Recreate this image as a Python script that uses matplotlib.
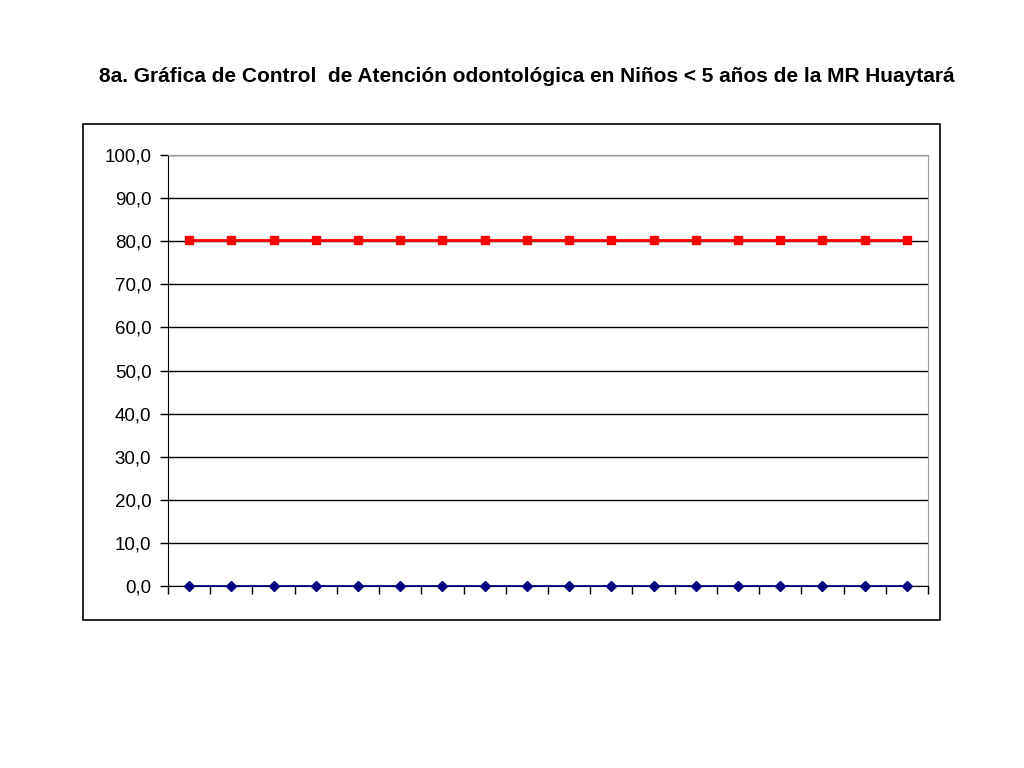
import matplotlib
matplotlib.use("Agg")
import matplotlib.pyplot as plt
from matplotlib.patches import Rectangle

title = "8a. Gráfica de Control  de Atención odontológica en Niños < 5 años de la MR Huaytará"
n_points = 18
meta = [80.3] * n_points
atencion = [0.0] * n_points
yticks = [0, 10, 20, 30, 40, 50, 60, 70, 80, 90, 100]

fig = plt.figure(figsize=(10.24, 7.68), dpi=100)
fig.patch.set_facecolor("white")

# outer chart box
fig.patches.append(Rectangle((83/1024, 1-620/768), (940-83)/1024, (620-124)/768,
                             transform=fig.transFigure, fill=False, edgecolor="black", linewidth=1.2))

ax = fig.add_axes([168/1024, 1-586/768, (928-168)/1024, (586-155)/768])
x = list(range(n_points))
ax.plot(x, meta, color="#FF0000", linewidth=2, marker="s", markersize=5.5, zorder=3, clip_on=False)
ax.plot(x, atencion, color="#000080", linewidth=1.2, marker="D", markersize=5.5, zorder=3, clip_on=False)

ax.set_xlim(-0.5, n_points - 0.5)
ax.set_ylim(0, 100)
ax.set_yticks(yticks)
ax.set_yticklabels([f"{v:.1f}".replace(".", ",") for v in yticks],
                   fontsize=13.5, family=["Liberation Sans", "DejaVu Sans"])
ax.set_xticks([i - 0.5 for i in range(n_points + 1)])
ax.set_xticklabels([])
ax.tick_params(axis="x", direction="out", length=6, width=1, color="black")
ax.tick_params(axis="y", direction="out", length=6, width=1, color="black", pad=6)
ax.yaxis.grid(True, color="black", linewidth=1)
ax.set_axisbelow(True)
for s in ["top", "right"]:
    ax.spines[s].set_color("#999999")
ax.spines["left"].set_color("black")
ax.spines["bottom"].set_color("black")

fig.text(527/1024, 1-76/768, title, ha="center", va="center", fontsize=15, fontweight="bold",
         family=["Liberation Sans", "DejaVu Sans"])

fig.savefig("out.png", dpi=100)
